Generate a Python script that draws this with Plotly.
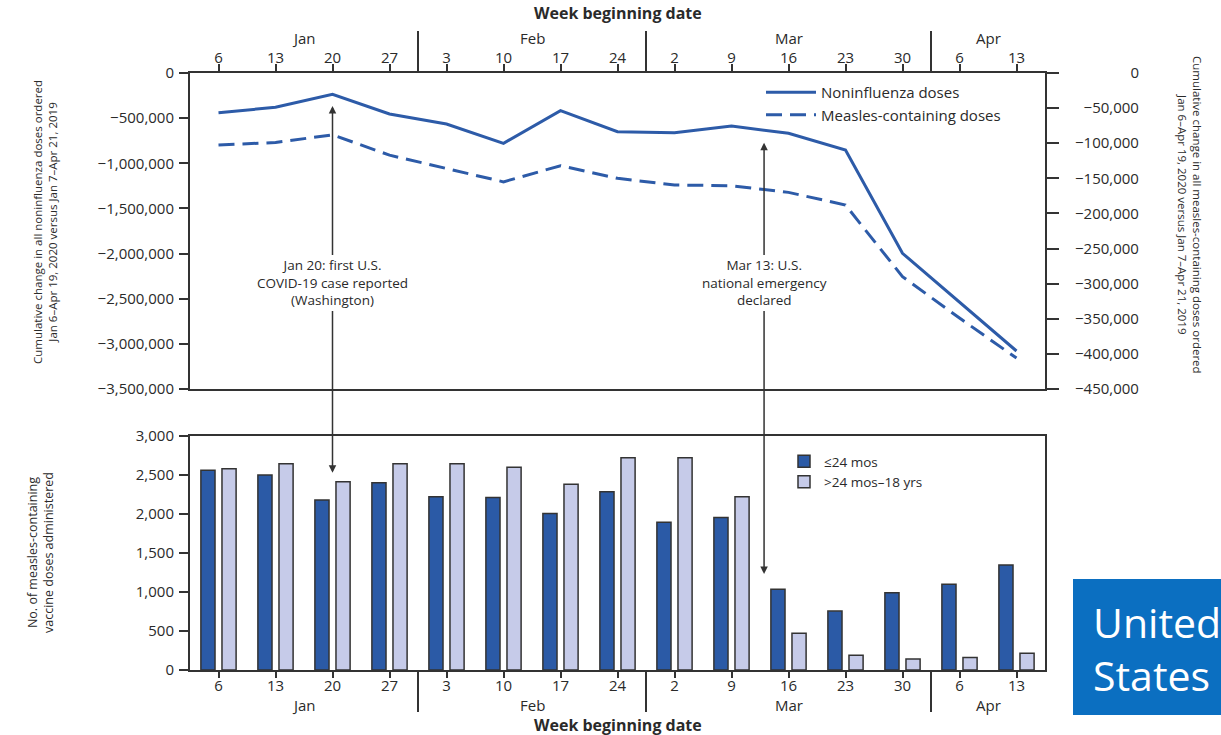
import datetime as dt
import plotly.graph_objects as go

# ---------------- data ----------------
week_days = [6, 13, 20, 27, 3, 10, 17, 24, 2, 9, 16, 23, 30, 6, 13]
week_months = ["Jan", "Jan", "Jan", "Jan", "Feb", "Feb", "Feb", "Feb",
               "Mar", "Mar", "Mar", "Mar", "Mar", "Apr", "Apr"]
month_num = {"Jan": 1, "Feb": 2, "Mar": 3, "Apr": 4}

noninfluenza = [-440000, -380000, -236000, -454000, -565000, -779000, -417000,
                -650000, -661000, -587000, -668000, -853000, -1997000,
                -2540000, -3079000]
measles_ordered = [-102500, -99000, -88000, -117000, -136000, -155000, -132000,
                   -150000, -159500, -160500, -170000, -188000, -290000,
                   -349000, -406000]

doses_le24 = [2560, 2500, 2180, 2400, 2220, 2210, 2005, 2285, 1895, 1955,
              1035, 755, 990, 1100, 1345]
doses_gt24 = [2580, 2645, 2415, 2645, 2645, 2600, 2380, 2720, 2720, 2220,
              470, 190, 140, 160, 215]

event_labels = ["Jan 20: first U.S.<br>COVID-19 case reported<br>(Washington)",
                "Mar 13: U.S.<br>national emergency<br>declared"]
event_dates = [dt.date(2020, 1, 20), dt.date(2020, 3, 13)]
event_top_head = [-365000, -772000]     # arrow tip on top panel (left axis units)
event_bottom_head = [2530, 1230]        # arrow tip on bottom panel (doses)

left_ticks = list(range(0, -3500001, -500000))
right_ticks = list(range(0, -450001, -50000))
bar_ticks = list(range(0, 3001, 500))

# ---------------- helpers ----------------
W, H = 1221, 735
def px_x(p):
    return p / W
def px_y(p):
    return 1 - p / H

week_dates = [dt.date(2020, month_num[m], d) for m, d in zip(week_months, week_days)]
xidx = list(range(len(week_days)))
event_x = [(d - week_dates[0]).days / 7 for d in event_dates]

def fmt(v):
    return f"{v:,}".replace("-", "\u2212")

# right-aligned labels for right axis using figure spaces
widest = fmt(right_ticks[-1])
def pad(s):
    p = widest[:len(widest) - len(s)]
    return "".join("\u2008" if c == "," else "\u2007" for c in p) + s
right_text = [pad(fmt(v)) for v in right_ticks]

LINE_BLUE = "#2d5ba8"
DARK = "#2a2a2a"
FONT = "Open Sans"
TS = 15  # main text size

xdom = [px_x(190), px_x(1045)]
top_dom = [px_y(389), px_y(73)]
bot_dom = [px_y(670), px_y(436)]

fig = go.Figure()

fig.add_trace(go.Scatter(x=xidx, y=noninfluenza, mode="lines", name="Noninfluenza doses",
                         line=dict(color=LINE_BLUE, width=3), xaxis="x", yaxis="y",
                         legend="legend"))
fig.add_trace(go.Scatter(x=xidx, y=measles_ordered, mode="lines", name="Measles-containing doses",
                         line=dict(color=LINE_BLUE, width=3, dash="16px,8px"),
                         xaxis="x", yaxis="y2", legend="legend"))

fig.add_trace(go.Bar(x=xidx, y=doses_le24, name="\u226424 mos",
                     marker=dict(color="#2b5aa6", line=dict(color="#333333", width=1.5)),
                     xaxis="x2", yaxis="y3", legend="legend2"))
fig.add_trace(go.Bar(x=xidx, y=doses_gt24, name=">24 mos\u201318 yrs",
                     marker=dict(color="#c6cbe9", line=dict(color="#333333", width=1.5)),
                     xaxis="x2", yaxis="y3", legend="legend2"))

axis_common = dict(showgrid=False, zeroline=False, showline=True, linecolor="#333333",
                   linewidth=2, ticks="outside", tickcolor="#333333", tickwidth=1.5,
                   automargin=False,
                   tickfont=dict(family=FONT, size=TS, color=DARK))

fig.update_layout(
    width=W, height=H,
    margin=dict(l=0, r=0, t=0, b=0, pad=0, autoexpand=False),
    paper_bgcolor="white", plot_bgcolor="white",
    font=dict(family=FONT, size=TS, color=DARK),
    barmode="group", bargap=0.26, bargroupgap=0.33,
    xaxis=dict(domain=xdom, anchor="y", side="top", range=[-0.5, 14.5],
               tickvals=xidx, ticktext=[str(d) for d in week_days], ticklen=7,
               ticklabelstandoff=-5, mirror=True, **axis_common),
    yaxis=dict(domain=top_dom, anchor="x", range=[-3500000, 0],
               tickvals=left_ticks, ticktext=[fmt(v) for v in left_ticks],
               ticklen=9, ticklabelstandoff=2, **axis_common),
    yaxis2=dict(overlaying="y", side="right", anchor="x", range=[-450000, 0],
                tickvals=right_ticks, ticktext=right_text, ticklen=12,
                ticklabelstandoff=13, **axis_common),
    xaxis2=dict(domain=xdom, anchor="y3", range=[-0.5, 14.5],
                tickvals=xidx, ticktext=[str(d) for d in week_days], ticklen=6,
                ticklabelstandoff=-5, mirror=True, **axis_common),
    yaxis3=dict(domain=bot_dom, anchor="x2", range=[0, 3000],
                tickvals=bar_ticks, ticktext=[fmt(v) for v in bar_ticks],
                ticklen=9, ticklabelstandoff=2, mirror=True, **axis_common),
    legend=dict(x=px_x(761), y=px_y(76), xanchor="left", yanchor="top",
                bgcolor="rgba(0,0,0,0)", font=dict(size=TS, family=FONT, color=DARK),
                itemwidth=50, tracegroupgap=0),
    legend2=dict(x=px_x(784), y=px_y(446), xanchor="left", yanchor="top",
                 bgcolor="rgba(0,0,0,0)", font=dict(size=13.5, family=FONT, color=DARK),
                 tracegroupgap=0),
)

annotations = []
shapes = []

def txt(x, y, text, size=TS, xref="paper", **kw):
    d = dict(x=x, xref=xref, y=y, yref="paper", text=text, showarrow=False,
             xanchor="center", yanchor="middle", font=dict(size=size))
    d.update(kw)
    return d

# month labels + separators
months_order = []
for m in week_months:
    if m not in months_order:
        months_order.append(m)
for m in months_order:
    idxs = [i for i, mm in enumerate(week_months) if mm == m]
    cx = sum(idxs) / len(idxs)
    annotations.append(txt(cx, px_y(38), m, xref="x"))
    annotations.append(txt(cx, px_y(705), m, xref="x2"))
for i in range(1, len(week_months)):
    if week_months[i] != week_months[i - 1]:
        b = i - 0.5
        shapes.append(dict(type="line", xref="x", x0=b, x1=b, yref="paper",
                           y0=px_y(31), y1=px_y(73), line=dict(color="#333333", width=2)))
        shapes.append(dict(type="line", xref="x2", x0=b, x1=b, yref="paper",
                           y0=px_y(670), y1=px_y(712), line=dict(color="#333333", width=2)))

# axis titles
xmid = 0.5 * (xdom[0] + xdom[1])
annotations.append(txt(xmid, px_y(13), "<b>Week beginning date</b>", size=16))
annotations.append(txt(xmid, px_y(725), "<b>Week beginning date</b>", size=16))
annotations.append(txt(px_x(45), px_y(222),
                       "Cumulative change in all noninfluenza doses ordered<br>"
                       "Jan 6\u2013Apr 19, 2020 versus Jan 7\u2013Apr 21, 2019",
                       size=11.5, textangle=-90))
annotations.append(txt(px_x(1190), px_y(215),
                       "Cumulative change in all measles-containing doses ordered<br>"
                       "Jan 6\u2013Apr 19, 2020 versus Jan 7\u2013Apr 21, 2019",
                       size=11.5, textangle=90))
annotations.append(txt(px_x(40), px_y(553),
                       "No. of measles-containing<br>vaccine doses administered",
                       size=12.5, textangle=-90))

# event arrows
TEXT_Y = 283
for lab, ex, th, bh in zip(event_labels, event_x, event_top_head, event_bottom_head):
    top_px = 73 + (-th) / 3500000 * 316
    bot_px = 670 - bh / 3000 * 234
    annotations.append(dict(x=ex, xref="x", y=th, yref="y", text=lab, showarrow=True,
                            ax=0, ay=TEXT_Y - top_px, arrowhead=2, arrowsize=1,
                            arrowwidth=1.5, arrowcolor="#333333",
                            font=dict(size=13.5), bgcolor="rgba(0,0,0,0)"))
    annotations.append(dict(x=ex, xref="x2", y=bh, yref="y3", text=lab, showarrow=True,
                            ax=0, ay=TEXT_Y - bot_px, arrowhead=2, arrowsize=1,
                            arrowwidth=1.5, arrowcolor="#333333",
                            font=dict(size=13.5, color="rgba(0,0,0,0)")))

# United States badge
shapes.append(dict(type="rect", xref="paper", yref="paper", x0=px_x(1073), x1=1.0,
                   y0=px_y(715), y1=px_y(579), fillcolor="#0b6fc1", line=dict(width=0),
                   layer="above"))
annotations.append(txt(px_x(1091), px_y(648), "United<br>States",
                       xanchor="left", align="left",
                       font=dict(size=41, color="white", family=FONT)))

fig.update_layout(annotations=annotations, shapes=shapes)

fig.write_html("out.html")
